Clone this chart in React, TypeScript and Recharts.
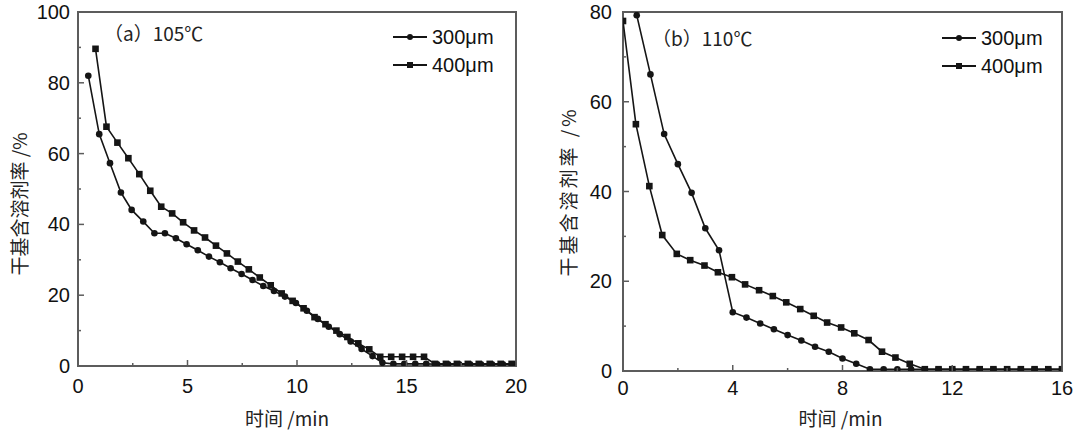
import React from 'react';
import { LineChart, Line, XAxis, YAxis, ReferenceArea, Legend } from 'recharts';

// ---------- shared labels ----------
const seriesNames = ['300μm', '400μm'];
const xTitle = '时间 /min';
const yTitle = '干基含溶剂率 /%';

// ---------- panel (a) 105℃ ----------
const aTitle = '（a）105℃';
const a300Time = [0.47, 0.97, 1.46, 1.96, 2.45, 2.98, 3.49, 3.97, 4.47, 4.96, 5.47, 5.98, 6.48, 6.97, 7.47, 7.97, 8.46, 8.95, 9.45, 9.95, 10.45, 10.95, 11.45, 11.95, 12.45, 12.95, 13.45, 13.9, 14.4, 14.9, 15.4, 15.9, 16.4, 16.9, 17.4, 17.9, 18.4, 18.9, 19.4, 19.9];
const a300Value = [82, 65.5, 57.3, 49, 44.1, 40.8, 37.5, 37.5, 36.1, 34.4, 32.7, 30.9, 29.3, 27.6, 26.0, 24.3, 22.6, 21.2, 19.6, 17.8, 15.6, 13.3, 11.1, 9.0, 6.9, 4.8, 2.8, 0.9, 0.6, 0.6, 0.6, 0.6, 0.5, 0.5, 0.5, 0.5, 0.5, 0.5, 0.5, 0.5];
const a400Time = [0.8, 1.3, 1.8, 2.3, 2.8, 3.3, 3.8, 4.3, 4.8, 5.3, 5.8, 6.3, 6.8, 7.3, 7.8, 8.3, 8.8, 9.3, 9.8, 10.3, 10.8, 11.3, 11.8, 12.3, 12.8, 13.3, 13.8, 14.3, 14.8, 15.3, 15.8, 16.3, 16.8, 17.3, 17.8, 18.3, 18.8, 19.3, 19.8];
const a400Value = [89.6, 67.6, 63.1, 58.7, 54.2, 49.5, 45.0, 43.1, 40.6, 38.3, 36.3, 34.0, 31.8, 29.5, 27.3, 25.0, 22.8, 20.5, 18.4, 16.3, 13.8, 11.8, 10.0, 8.2, 6.4, 4.7, 2.6, 2.6, 2.6, 2.6, 2.6, 0.6, 0.6, 0.6, 0.6, 0.6, 0.6, 0.6, 0.6];
const aXTicks = [0, 2.5, 5, 7.5, 10, 12.5, 15, 17.5, 20];
const aXLabels = [0, 5, 10, 15, 20];
const aYTicks = [0, 10, 20, 30, 40, 50, 60, 70, 80, 90, 100];
const aYLabels = [0, 20, 40, 60, 80, 100];

// ---------- panel (b) 110℃ ----------
const bTitle = '（b）110℃';
const b300Time = [0.5, 1.0, 1.5, 2.0, 2.5, 3.0, 3.5, 4.0, 4.5, 5.0, 5.5, 6.0, 6.5, 7.0, 7.5, 8.0, 8.5, 9.0, 9.5, 10.0, 10.5, 11.0, 11.5, 12.0, 12.5, 13.0, 13.5, 14.0, 14.5, 15.0, 15.5, 16.0];
const b300Value = [79.3, 66.1, 52.8, 46.1, 39.7, 31.8, 26.9, 13.1, 11.9, 10.6, 9.3, 8.0, 6.8, 5.4, 4.3, 2.8, 1.6, 0.4, 0.4, 0.4, 0.4, 0.4, 0.4, 0.4, 0.4, 0.4, 0.4, 0.4, 0.4, 0.4, 0.4, 0.4];
const b400Time = [0, 0.47, 0.96, 1.43, 1.96, 2.45, 2.97, 3.46, 3.97, 4.45, 4.96, 5.46, 5.95, 6.46, 6.95, 7.44, 7.95, 8.43, 8.95, 9.44, 9.93, 10.45, 11.0, 11.5, 12.0, 12.5, 13.0, 13.5, 14.0, 14.5, 15.0, 15.5, 16.0];
const b400Value = [78, 55, 41.2, 30.3, 26.1, 24.7, 23.5, 22.0, 20.9, 19.3, 18.0, 16.7, 15.3, 13.8, 12.3, 10.8, 9.7, 8.4, 6.9, 4.3, 3.0, 1.6, 0.4, 0.4, 0.4, 0.4, 0.4, 0.4, 0.4, 0.4, 0.4, 0.4, 0.4];
const bXTicks = [0, 2, 4, 6, 8, 10, 12, 14, 16];
const bXLabels = [0, 4, 8, 12, 16];
const bYTicks = [0, 10, 20, 30, 40, 50, 60, 70, 80];
const bYLabels = [0, 20, 40, 60, 80];

// ---------- styling ----------
const INK = '#151515';
const FRAME = '#5c5c5c';
const NUM_FONT = '"Liberation Sans", Arial, sans-serif';
const CJK_FONT = '"Noto Sans CJK SC", "Liberation Sans", sans-serif';

const zip = (t: number[], v: number[]) => t.map((x, i) => ({ t: x, v: v[i] }));

const makeXTick = (labels: number[], labelDy: number) => (props: any) => {
  const { x, y, payload } = props;
  const major = labels.includes(payload.value);
  return (
    <g>
      <line x1={x} x2={x} y1={y} y2={y - (major ? 6 : 3)} stroke={FRAME} strokeWidth={1.5} />
      {major && (
        <text x={x} y={y + labelDy} textAnchor="middle" dominantBaseline="central" fontSize={20} fontFamily={NUM_FONT} fill="#111">
          {payload.value}
        </text>
      )}
    </g>
  );
};

const makeYTick = (labels: number[], gap: number) => (props: any) => {
  const { x, y, payload } = props;
  const major = labels.includes(payload.value);
  return (
    <g>
      <line x1={x} x2={x + (major ? 6 : 3)} y1={y} y2={y} stroke={FRAME} strokeWidth={1.5} />
      {major && (
        <text x={x - gap} y={y} textAnchor="end" dominantBaseline="central" fontSize={20} fontFamily={NUM_FONT} fill="#111">
          {payload.value}
        </text>
      )}
    </g>
  );
};

const CircleDot = (props: any) => {
  const { cx, cy, index } = props;
  if (cx == null || cy == null) return <g key={`ce${index}`} />;
  return <circle key={`c${index}`} cx={cx} cy={cy} r={3.3} fill={INK} />;
};

const SquareDot = (props: any) => {
  const { cx, cy, index } = props;
  if (cx == null || cy == null) return <g key={`se${index}`} />;
  return <rect key={`s${index}`} x={cx - 3.3} y={cy - 3.3} width={6.6} height={6.6} fill={INK} />;
};

const XTitle = (dx: number, dy: number) => (props: any) => {
  const vb = props.viewBox || { x: 0, y: 0, width: 0, height: 0 };
  return (
    <text x={vb.x + vb.width / 2 + dx} y={vb.y + dy} textAnchor="middle" dominantBaseline="central" fontSize={19} fontFamily={CJK_FONT} fill="#222">
      {xTitle}
    </text>
  );
};

const YTitle = (cxOffset: number, dy: number, spacing: number) => (props: any) => {
  const vb = props.viewBox || { x: 0, y: 0, width: 0, height: 0 };
  const cx = vb.x + cxOffset;
  const cy = vb.y + vb.height / 2 + dy;
  return (
    <text
      x={cx}
      y={cy}
      transform={`rotate(-90 ${cx} ${cy})`}
      textAnchor="middle"
      dominantBaseline="central"
      fontSize={19}
      letterSpacing={spacing}
      fontFamily={CJK_FONT}
      fill="#222"
    >
      {yTitle}
    </text>
  );
};

const LegendContent = () => (
  <div style={{ display: 'flex', flexDirection: 'column' }}>
    {seriesNames.map((n, i) => (
      <div key={n} style={{ display: 'flex', alignItems: 'center', height: 28 }}>
        <svg width={34} height={12} style={{ display: 'block' }}>
          <line x1={0} x2={34} y1={6} y2={6} stroke={INK} strokeWidth={2} />
          {i === 0 ? <circle cx={17} cy={6} r={3} fill={INK} /> : <rect x={14} y={3} width={6} height={6} fill={INK} />}
        </svg>
        <span style={{ marginLeft: 5, fontSize: 20, fontFamily: NUM_FONT, color: '#111', lineHeight: '28px' }}>{n}</span>
      </div>
    ))}
  </div>
);

type PanelProps = {
  left: number;
  width: number;
  margin: { top: number; right: number; left: number; bottom: number };
  yAxisWidth: number;
  xAxisHeight: number;
  xMax: number;
  yMax: number;
  xTicks: number[];
  xLabels: number[];
  yTicks: number[];
  yLabels: number[];
  s300: { t: number; v: number }[];
  s400: { t: number; v: number }[];
  title: string;
  titlePos: { left: number; top: number };
  legendPos: { left: number; top: number };
  xLabelDy: number;
  yGap: number;
  xTitleDx: number;
  xTitleDy: number;
  yTitleX: number;
  yTitleDy: number;
  yTitleSpacing: number;
};

const Panel = (p: PanelProps) => (
  <div style={{ position: 'absolute', left: p.left, top: 0, width: p.width, height: 430 }}>
    <LineChart width={p.width} height={430} margin={p.margin}>
      <XAxis
        type="number"
        dataKey="t"
        domain={[0, p.xMax]}
        ticks={p.xTicks}
        interval={0}
        allowDataOverflow
        axisLine={false}
        tickLine={false}
        tickSize={0}
        tickMargin={0}
        height={p.xAxisHeight}
        tick={makeXTick(p.xLabels, p.xLabelDy)}
        label={XTitle(p.xTitleDx, p.xTitleDy)}
      />
      <YAxis
        type="number"
        dataKey="v"
        domain={[0, p.yMax]}
        ticks={p.yTicks}
        interval={0}
        allowDataOverflow
        axisLine={false}
        tickLine={false}
        tickSize={0}
        tickMargin={0}
        width={p.yAxisWidth}
        tick={makeYTick(p.yLabels, p.yGap)}
        label={YTitle(p.yTitleX, p.yTitleDy, p.yTitleSpacing)}
      />
      <ReferenceArea x1={0} x2={p.xMax} y1={0} y2={p.yMax} fill="none" stroke={FRAME} strokeWidth={2} ifOverflow="visible" />
      <Line data={p.s300} dataKey="v" name={seriesNames[0]} type="linear" stroke={INK} strokeWidth={1.6} dot={CircleDot} activeDot={false} isAnimationActive={false} />
      <Line data={p.s400} dataKey="v" name={seriesNames[1]} type="linear" stroke={INK} strokeWidth={1.6} dot={SquareDot} activeDot={false} isAnimationActive={false} />
      <Legend
        layout="horizontal"
        verticalAlign="middle"
        align="center"
        content={LegendContent}
        wrapperStyle={{ position: 'absolute', left: p.legendPos.left, top: p.legendPos.top, width: 120, height: 56 }}
      />
    </LineChart>
    <div
      style={{
        position: 'absolute',
        left: p.titlePos.left,
        top: p.titlePos.top,
        fontSize: 19,
        fontFamily: CJK_FONT,
        color: '#222',
        lineHeight: '24px',
        whiteSpace: 'nowrap',
      }}
    >
      {p.title}
    </div>
  </div>
);

export default function App() {
  return (
    <div style={{ position: 'absolute', left: 0, top: 0, width: 1080, height: 430, background: '#fff', overflow: 'hidden' }}>
      <Panel
        left={0}
        width={540}
        margin={{ top: 12, right: 24, left: 0, bottom: 0 }}
        yAxisWidth={78}
        xAxisHeight={64}
        xMax={20}
        yMax={100}
        xTicks={aXTicks}
        xLabels={aXLabels}
        yTicks={aYTicks}
        yLabels={aYLabels}
        s300={zip(a300Time, a300Value)}
        s400={zip(a400Time, a400Value)}
        title={aTitle}
        titlePos={{ left: 104, top: 21 }}
        legendPos={{ left: 393, top: 23 }}
        xLabelDy={20}
        yGap={8}
        xTitleDx={-10}
        xTitleDy={51}
        yTitleX={18}
        yTitleDy={15}
        yTitleSpacing={0}
      />
      <Panel
        left={540}
        width={540}
        margin={{ top: 12, right: 18, left: 0, bottom: 0 }}
        yAxisWidth={83}
        xAxisHeight={59}
        xMax={16}
        yMax={80}
        xTicks={bXTicks}
        xLabels={bXLabels}
        yTicks={bYTicks}
        yLabels={bYLabels}
        s300={zip(b300Time, b300Value)}
        s400={zip(b400Time, b400Value)}
        title={bTitle}
        titlePos={{ left: 112, top: 26 }}
        legendPos={{ left: 402, top: 24 }}
        xLabelDy={17}
        yGap={11}
        xTitleDx={-2}
        xTitleDy={46}
        yTitleX={27}
        yTitleDy={0}
        yTitleSpacing={3}
      />
    </div>
  );
}
